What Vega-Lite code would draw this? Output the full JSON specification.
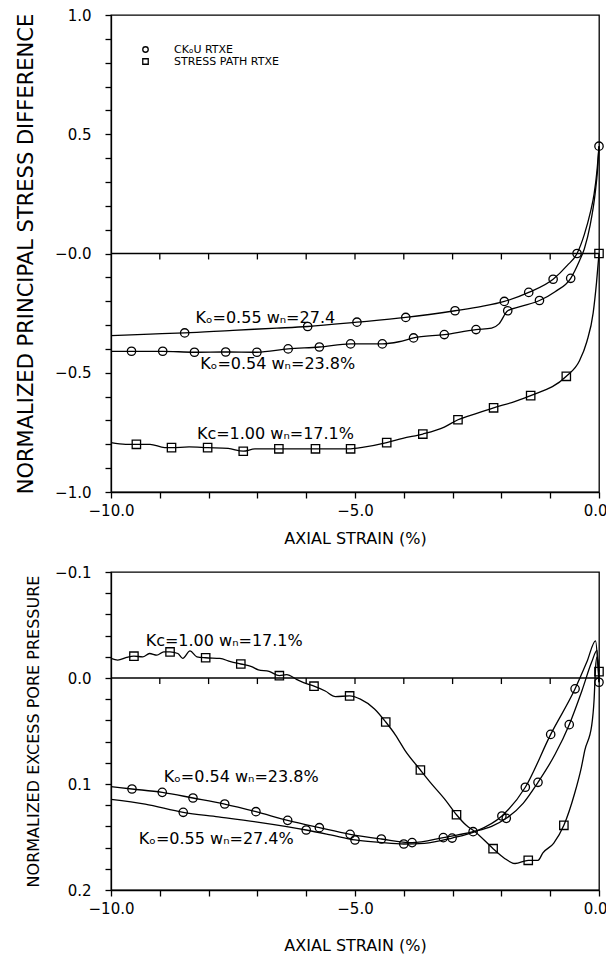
{
  "$schema": "https://vega.github.io/schema/vega-lite/v6.json",
  "padding": {"left": 14, "top": 7, "right": 0, "bottom": 6},
  "background": "white",
  "config": {
    "font": "DejaVu Sans",
    "view": {"stroke": "black", "strokeWidth": 1.3},
    "axis": {
      "domainColor": "black", "tickColor": "black", "labelColor": "black", "titleColor": "black",
      "grid": false, "labelFont": "DejaVu Sans", "titleFont": "DejaVu Sans",
      "labelFontSize": 15, "titleFontSize": 16, "titleFontWeight": "normal",
      "tickSize": 6, "domainWidth": 1.3, "tickWidth": 1.3, "labelFlush": false
    },
    "legend": {"labelFont": "DejaVu Sans", "labelColor": "black"}
  },
  "datasets": {
    "zero_ticks": [
      {"x": -9}, {"x": -8}, {"x": -7}, {"x": -6}, {"x": -5}, {"x": -4}, {"x": -3}, {"x": -2}, {"x": -1}
    ],
    "top_lines": [
      {"series": "Ko=0.55", "x": -10, "y": -0.344}, {"series": "Ko=0.55", "x": -9.2, "y": -0.338},
      {"series": "Ko=0.55", "x": -8.49, "y": -0.333}, {"series": "Ko=0.55", "x": -7.5, "y": -0.322},
      {"series": "Ko=0.55", "x": -6.6, "y": -0.313}, {"series": "Ko=0.55", "x": -5.97, "y": -0.306},
      {"series": "Ko=0.55", "x": -4.96, "y": -0.288}, {"series": "Ko=0.55", "x": -3.96, "y": -0.268},
      {"series": "Ko=0.55", "x": -2.95, "y": -0.24}, {"series": "Ko=0.55", "x": -2.4, "y": -0.222},
      {"series": "Ko=0.55", "x": -1.94, "y": -0.201}, {"series": "Ko=0.55", "x": -1.44, "y": -0.163},
      {"series": "Ko=0.55", "x": -0.94, "y": -0.108}, {"series": "Ko=0.55", "x": -0.65, "y": -0.05},
      {"series": "Ko=0.55", "x": -0.45, "y": 0.0}, {"series": "Ko=0.55", "x": -0.3, "y": 0.08},
      {"series": "Ko=0.55", "x": -0.18, "y": 0.17}, {"series": "Ko=0.55", "x": -0.1, "y": 0.25},
      {"series": "Ko=0.55", "x": -0.04, "y": 0.35}, {"series": "Ko=0.55", "x": 0, "y": 0.45},

      {"series": "Ko=0.54", "x": -10, "y": -0.41}, {"series": "Ko=0.54", "x": -9.58, "y": -0.41},
      {"series": "Ko=0.54", "x": -8.94, "y": -0.41}, {"series": "Ko=0.54", "x": -8.29, "y": -0.414},
      {"series": "Ko=0.54", "x": -7.65, "y": -0.413}, {"series": "Ko=0.54", "x": -7.01, "y": -0.414},
      {"series": "Ko=0.54", "x": -6.37, "y": -0.4}, {"series": "Ko=0.54", "x": -5.73, "y": -0.392},
      {"series": "Ko=0.54", "x": -5.09, "y": -0.379}, {"series": "Ko=0.54", "x": -4.44, "y": -0.379},
      {"series": "Ko=0.54", "x": -4.1, "y": -0.37}, {"series": "Ko=0.54", "x": -3.8, "y": -0.354},
      {"series": "Ko=0.54", "x": -3.17, "y": -0.34}, {"series": "Ko=0.54", "x": -2.52, "y": -0.319},
      {"series": "Ko=0.54", "x": -2.2, "y": -0.313}, {"series": "Ko=0.54", "x": -2.05, "y": -0.295},
      {"series": "Ko=0.54", "x": -1.87, "y": -0.24}, {"series": "Ko=0.54", "x": -1.6, "y": -0.222},
      {"series": "Ko=0.54", "x": -1.22, "y": -0.197}, {"series": "Ko=0.54", "x": -0.9, "y": -0.16},
      {"series": "Ko=0.54", "x": -0.58, "y": -0.104}, {"series": "Ko=0.54", "x": -0.4, "y": -0.03},
      {"series": "Ko=0.54", "x": -0.3, "y": 0.02}, {"series": "Ko=0.54", "x": -0.18, "y": 0.12},
      {"series": "Ko=0.54", "x": -0.08, "y": 0.25}, {"series": "Ko=0.54", "x": -0.03, "y": 0.35},
      {"series": "Ko=0.54", "x": 0, "y": 0.45},

      {"series": "Kc=1.00", "x": -10, "y": -0.793}, {"series": "Kc=1.00", "x": -9.7, "y": -0.8},
      {"series": "Kc=1.00", "x": -9.48, "y": -0.8}, {"series": "Kc=1.00", "x": -9.2, "y": -0.8},
      {"series": "Kc=1.00", "x": -8.9, "y": -0.814}, {"series": "Kc=1.00", "x": -8.76, "y": -0.814},
      {"series": "Kc=1.00", "x": -8.4, "y": -0.811}, {"series": "Kc=1.00", "x": -8.02, "y": -0.814},
      {"series": "Kc=1.00", "x": -7.6, "y": -0.817}, {"series": "Kc=1.00", "x": -7.29, "y": -0.829},
      {"series": "Kc=1.00", "x": -7.05, "y": -0.819}, {"series": "Kc=1.00", "x": -6.56, "y": -0.819},
      {"series": "Kc=1.00", "x": -6.05, "y": -0.819}, {"series": "Kc=1.00", "x": -5.81, "y": -0.819},
      {"series": "Kc=1.00", "x": -5.3, "y": -0.819}, {"series": "Kc=1.00", "x": -5.09, "y": -0.819},
      {"series": "Kc=1.00", "x": -4.82, "y": -0.812}, {"series": "Kc=1.00", "x": -4.35, "y": -0.793},
      {"series": "Kc=1.00", "x": -4.02, "y": -0.775}, {"series": "Kc=1.00", "x": -3.61, "y": -0.757},
      {"series": "Kc=1.00", "x": -3.17, "y": -0.728}, {"series": "Kc=1.00", "x": -2.89, "y": -0.697},
      {"series": "Kc=1.00", "x": -2.52, "y": -0.671}, {"series": "Kc=1.00", "x": -2.16, "y": -0.647},
      {"series": "Kc=1.00", "x": -1.73, "y": -0.621}, {"series": "Kc=1.00", "x": -1.4, "y": -0.596},
      {"series": "Kc=1.00", "x": -0.67, "y": -0.515}, {"series": "Kc=1.00", "x": -0.4, "y": -0.45},
      {"series": "Kc=1.00", "x": -0.25, "y": -0.37}, {"series": "Kc=1.00", "x": -0.12, "y": -0.25},
      {"series": "Kc=1.00", "x": -0.05, "y": -0.12}, {"series": "Kc=1.00", "x": 0, "y": 0}
    ],
    "top_markers": [
      {"test": "CKₒU RTXE", "x": -8.49, "y": -0.333}, {"test": "CKₒU RTXE", "x": -5.97, "y": -0.306},
      {"test": "CKₒU RTXE", "x": -4.96, "y": -0.288}, {"test": "CKₒU RTXE", "x": -3.96, "y": -0.268},
      {"test": "CKₒU RTXE", "x": -2.95, "y": -0.24}, {"test": "CKₒU RTXE", "x": -1.94, "y": -0.201},
      {"test": "CKₒU RTXE", "x": -1.44, "y": -0.163}, {"test": "CKₒU RTXE", "x": -0.94, "y": -0.108},
      {"test": "CKₒU RTXE", "x": -0.45, "y": 0.0}, {"test": "CKₒU RTXE", "x": 0, "y": 0.45},
      {"test": "CKₒU RTXE", "x": -9.58, "y": -0.41}, {"test": "CKₒU RTXE", "x": -8.94, "y": -0.41},
      {"test": "CKₒU RTXE", "x": -8.29, "y": -0.414}, {"test": "CKₒU RTXE", "x": -7.65, "y": -0.413},
      {"test": "CKₒU RTXE", "x": -7.01, "y": -0.414}, {"test": "CKₒU RTXE", "x": -6.37, "y": -0.4},
      {"test": "CKₒU RTXE", "x": -5.73, "y": -0.392}, {"test": "CKₒU RTXE", "x": -5.09, "y": -0.379},
      {"test": "CKₒU RTXE", "x": -4.44, "y": -0.379}, {"test": "CKₒU RTXE", "x": -3.8, "y": -0.354},
      {"test": "CKₒU RTXE", "x": -3.17, "y": -0.34}, {"test": "CKₒU RTXE", "x": -2.52, "y": -0.319},
      {"test": "CKₒU RTXE", "x": -1.87, "y": -0.24}, {"test": "CKₒU RTXE", "x": -1.22, "y": -0.197},
      {"test": "CKₒU RTXE", "x": -0.58, "y": -0.104},
      {"test": "STRESS PATH RTXE", "x": -9.48, "y": -0.8}, {"test": "STRESS PATH RTXE", "x": -8.76, "y": -0.814},
      {"test": "STRESS PATH RTXE", "x": -8.02, "y": -0.814}, {"test": "STRESS PATH RTXE", "x": -7.29, "y": -0.829},
      {"test": "STRESS PATH RTXE", "x": -6.56, "y": -0.819}, {"test": "STRESS PATH RTXE", "x": -5.81, "y": -0.819},
      {"test": "STRESS PATH RTXE", "x": -5.09, "y": -0.819}, {"test": "STRESS PATH RTXE", "x": -4.35, "y": -0.793},
      {"test": "STRESS PATH RTXE", "x": -3.61, "y": -0.757}, {"test": "STRESS PATH RTXE", "x": -2.89, "y": -0.697},
      {"test": "STRESS PATH RTXE", "x": -2.16, "y": -0.647}, {"test": "STRESS PATH RTXE", "x": -1.4, "y": -0.596},
      {"test": "STRESS PATH RTXE", "x": -0.67, "y": -0.515}, {"test": "STRESS PATH RTXE", "x": 0, "y": 0}
    ],
    "top_labels": [
      {"label": "Kₒ=0.55  wₙ=27.4", "x": -8.27, "y": -0.272},
      {"label": "Kₒ=0.54  wₙ=23.8%", "x": -8.17, "y": -0.465},
      {"label": "Kc=1.00  wₙ=17.1%", "x": -8.24, "y": -0.757}
    ],
    "bottom_lines": [
      {"series": "Kc=1.00", "x": -10, "y": -0.0185}, {"series": "Kc=1.00", "x": -9.86, "y": -0.0169},
      {"series": "Kc=1.00", "x": -9.68, "y": -0.0194}, {"series": "Kc=1.00", "x": -9.53, "y": -0.0206},
      {"series": "Kc=1.00", "x": -9.35, "y": -0.02}, {"series": "Kc=1.00", "x": -9.21, "y": -0.0231},
      {"series": "Kc=1.00", "x": -9.06, "y": -0.0215}, {"series": "Kc=1.00", "x": -8.92, "y": -0.0246},
      {"series": "Kc=1.00", "x": -8.79, "y": -0.0246}, {"series": "Kc=1.00", "x": -8.63, "y": -0.0231},
      {"series": "Kc=1.00", "x": -8.53, "y": -0.0185}, {"series": "Kc=1.00", "x": -8.38, "y": -0.0255},
      {"series": "Kc=1.00", "x": -8.24, "y": -0.02}, {"series": "Kc=1.00", "x": -8.06, "y": -0.0191},
      {"series": "Kc=1.00", "x": -7.77, "y": -0.0185}, {"series": "Kc=1.00", "x": -7.55, "y": -0.0154},
      {"series": "Kc=1.00", "x": -7.34, "y": -0.0132}, {"series": "Kc=1.00", "x": -7.12, "y": -0.0108},
      {"series": "Kc=1.00", "x": -6.98, "y": -0.0077}, {"series": "Kc=1.00", "x": -6.76, "y": -0.0062},
      {"series": "Kc=1.00", "x": -6.55, "y": -0.0022}, {"series": "Kc=1.00", "x": -6.4, "y": -0.0031},
      {"series": "Kc=1.00", "x": -6.19, "y": 0.0015}, {"series": "Kc=1.00", "x": -6.04, "y": 0.0046},
      {"series": "Kc=1.00", "x": -5.84, "y": 0.0077}, {"series": "Kc=1.00", "x": -5.61, "y": 0.0123},
      {"series": "Kc=1.00", "x": -5.4, "y": 0.0175}, {"series": "Kc=1.00", "x": -5.11, "y": 0.0169},
      {"series": "Kc=1.00", "x": -4.89, "y": 0.02}, {"series": "Kc=1.00", "x": -4.6, "y": 0.0292},
      {"series": "Kc=1.00", "x": -4.37, "y": 0.0415}, {"series": "Kc=1.00", "x": -4.17, "y": 0.0538},
      {"series": "Kc=1.00", "x": -3.98, "y": 0.068}, {"series": "Kc=1.00", "x": -3.66, "y": 0.0868},
      {"series": "Kc=1.00", "x": -3.44, "y": 0.0994}, {"series": "Kc=1.00", "x": -3.15, "y": 0.115},
      {"series": "Kc=1.00", "x": -2.92, "y": 0.129}, {"series": "Kc=1.00", "x": -2.72, "y": 0.139},
      {"series": "Kc=1.00", "x": -2.54, "y": 0.145}, {"series": "Kc=1.00", "x": -2.17, "y": 0.161},
      {"series": "Kc=1.00", "x": -1.94, "y": 0.17}, {"series": "Kc=1.00", "x": -1.72, "y": 0.175},
      {"series": "Kc=1.00", "x": -1.45, "y": 0.172}, {"series": "Kc=1.00", "x": -1.25, "y": 0.172},
      {"series": "Kc=1.00", "x": -1.15, "y": 0.165}, {"series": "Kc=1.00", "x": -0.93, "y": 0.156},
      {"series": "Kc=1.00", "x": -0.72, "y": 0.139}, {"series": "Kc=1.00", "x": -0.5, "y": 0.109},
      {"series": "Kc=1.00", "x": -0.36, "y": 0.084}, {"series": "Kc=1.00", "x": -0.29, "y": 0.068},
      {"series": "Kc=1.00", "x": -0.15, "y": 0.045}, {"series": "Kc=1.00", "x": -0.1, "y": 0.02},
      {"series": "Kc=1.00", "x": -0.07, "y": -0.01}, {"series": "Kc=1.00", "x": -0.04, "y": -0.02},
      {"series": "Kc=1.00", "x": 0, "y": -0.006},

      {"series": "Ko=0.54", "x": -10, "y": 0.1025}, {"series": "Ko=0.54", "x": -9.57, "y": 0.1047},
      {"series": "Ko=0.54", "x": -8.95, "y": 0.1079}, {"series": "Ko=0.54", "x": -8.32, "y": 0.1132},
      {"series": "Ko=0.54", "x": -7.67, "y": 0.1189}, {"series": "Ko=0.54", "x": -7.03, "y": 0.1261},
      {"series": "Ko=0.54", "x": -6.38, "y": 0.1343}, {"series": "Ko=0.54", "x": -5.73, "y": 0.1412},
      {"series": "Ko=0.54", "x": -5.1, "y": 0.1475}, {"series": "Ko=0.54", "x": -4.46, "y": 0.1519},
      {"series": "Ko=0.54", "x": -3.83, "y": 0.1553}, {"series": "Ko=0.54", "x": -3.19, "y": 0.1506},
      {"series": "Ko=0.54", "x": -2.58, "y": 0.145}, {"series": "Ko=0.54", "x": -2.2, "y": 0.14},
      {"series": "Ko=0.54", "x": -1.9, "y": 0.1324}, {"series": "Ko=0.54", "x": -1.55, "y": 0.118},
      {"series": "Ko=0.54", "x": -1.25, "y": 0.0984}, {"series": "Ko=0.54", "x": -0.9, "y": 0.072},
      {"series": "Ko=0.54", "x": -0.61, "y": 0.044}, {"series": "Ko=0.54", "x": -0.35, "y": 0.012},
      {"series": "Ko=0.54", "x": -0.15, "y": -0.015}, {"series": "Ko=0.54", "x": -0.04, "y": -0.026},
      {"series": "Ko=0.54", "x": 0, "y": 0.004},

      {"series": "Ko=0.55", "x": -10, "y": 0.1145}, {"series": "Ko=0.55", "x": -9.3, "y": 0.119},
      {"series": "Ko=0.55", "x": -8.52, "y": 0.1267}, {"series": "Ko=0.55", "x": -7.8, "y": 0.131},
      {"series": "Ko=0.55", "x": -7.0, "y": 0.136}, {"series": "Ko=0.55", "x": -6.0, "y": 0.1434},
      {"series": "Ko=0.55", "x": -5.5, "y": 0.148}, {"series": "Ko=0.55", "x": -5.0, "y": 0.1528},
      {"series": "Ko=0.55", "x": -4.5, "y": 0.155}, {"series": "Ko=0.55", "x": -4.0, "y": 0.1566},
      {"series": "Ko=0.55", "x": -3.58, "y": 0.156}, {"series": "Ko=0.55", "x": -3.01, "y": 0.151},
      {"series": "Ko=0.55", "x": -2.54, "y": 0.145}, {"series": "Ko=0.55", "x": -1.99, "y": 0.1302},
      {"series": "Ko=0.55", "x": -1.51, "y": 0.1031}, {"series": "Ko=0.55", "x": -0.99, "y": 0.0532},
      {"series": "Ko=0.55", "x": -0.49, "y": 0.0102}, {"series": "Ko=0.55", "x": -0.25, "y": -0.015},
      {"series": "Ko=0.55", "x": -0.07, "y": -0.035}, {"series": "Ko=0.55", "x": -0.02, "y": -0.01},
      {"series": "Ko=0.55", "x": 0, "y": 0.004}
    ],
    "bottom_markers": [
      {"test": "STRESS PATH RTXE", "x": -9.53, "y": -0.0206}, {"test": "STRESS PATH RTXE", "x": -8.79, "y": -0.0246},
      {"test": "STRESS PATH RTXE", "x": -8.06, "y": -0.0191}, {"test": "STRESS PATH RTXE", "x": -7.34, "y": -0.0132},
      {"test": "STRESS PATH RTXE", "x": -6.55, "y": -0.0022}, {"test": "STRESS PATH RTXE", "x": -5.84, "y": 0.0077},
      {"test": "STRESS PATH RTXE", "x": -5.11, "y": 0.0169}, {"test": "STRESS PATH RTXE", "x": -4.37, "y": 0.0415},
      {"test": "STRESS PATH RTXE", "x": -3.66, "y": 0.0868}, {"test": "STRESS PATH RTXE", "x": -2.92, "y": 0.129},
      {"test": "STRESS PATH RTXE", "x": -2.17, "y": 0.161}, {"test": "STRESS PATH RTXE", "x": -1.45, "y": 0.172},
      {"test": "STRESS PATH RTXE", "x": -0.72, "y": 0.139}, {"test": "STRESS PATH RTXE", "x": 0, "y": -0.006},
      {"test": "CKₒU RTXE", "x": -9.57, "y": 0.1047}, {"test": "CKₒU RTXE", "x": -8.95, "y": 0.1079},
      {"test": "CKₒU RTXE", "x": -8.32, "y": 0.1132}, {"test": "CKₒU RTXE", "x": -7.67, "y": 0.1189},
      {"test": "CKₒU RTXE", "x": -7.03, "y": 0.1261}, {"test": "CKₒU RTXE", "x": -6.38, "y": 0.1343},
      {"test": "CKₒU RTXE", "x": -5.73, "y": 0.1412}, {"test": "CKₒU RTXE", "x": -5.1, "y": 0.1475},
      {"test": "CKₒU RTXE", "x": -4.46, "y": 0.1519}, {"test": "CKₒU RTXE", "x": -3.83, "y": 0.1553},
      {"test": "CKₒU RTXE", "x": -3.19, "y": 0.1506}, {"test": "CKₒU RTXE", "x": -2.58, "y": 0.145},
      {"test": "CKₒU RTXE", "x": -1.9, "y": 0.1324}, {"test": "CKₒU RTXE", "x": -1.25, "y": 0.0984},
      {"test": "CKₒU RTXE", "x": -0.61, "y": 0.044}, {"test": "CKₒU RTXE", "x": 0, "y": 0.004},
      {"test": "CKₒU RTXE", "x": -8.52, "y": 0.1267}, {"test": "CKₒU RTXE", "x": -6.0, "y": 0.1434},
      {"test": "CKₒU RTXE", "x": -5.0, "y": 0.1528}, {"test": "CKₒU RTXE", "x": -4.0, "y": 0.1566},
      {"test": "CKₒU RTXE", "x": -3.01, "y": 0.151}, {"test": "CKₒU RTXE", "x": -1.99, "y": 0.1302},
      {"test": "CKₒU RTXE", "x": -1.51, "y": 0.1031}, {"test": "CKₒU RTXE", "x": -0.99, "y": 0.0532},
      {"test": "CKₒU RTXE", "x": -0.49, "y": 0.0102}
    ],
    "bottom_labels": [
      {"label": "Kc=1.00  wₙ=17.1%", "x": -9.29, "y": -0.035},
      {"label": "Kₒ=0.54  wₙ=23.8%", "x": -8.92, "y": 0.093},
      {"label": "Kₒ=0.55  wₙ=27.4%", "x": -9.43, "y": 0.152}
    ]
  },
  "spacing": 80,
  "bounds": "flush",
  "resolve": {"scale": {"shape": "independent"}, "legend": {"shape": "independent"}},
  "vconcat": [
    {
      "width": 488,
      "height": 477,
      "layer": [
        {
          "data": {"name": "top_lines"},
          "mark": {"type": "line", "color": "black", "strokeWidth": 1.3, "interpolate": "monotone"},
          "encoding": {
            "x": {
              "field": "x", "type": "quantitative",
              "scale": {"domain": [-10, 0], "nice": false, "zero": false},
              "axis": {
                "title": "AXIAL STRAIN (%)",
                "values": [-10, -9, -8, -7, -6, -5, -4, -3, -2, -1, 0],
                "tickCount": 60,
                "labelExpr": "abs(datum.value % 5) < 0.001 ? format(datum.value, '.1f') : ''",
                "labelOverlap": false, "labelFlush": false,
                "labelPadding": 5, "titlePadding": 12,
                "labelAlign": {"condition": {"test": "datum.value === 0", "value": "right"}, "value": "center"},
                "labelOffset": {"condition": {"test": "datum.value === 0", "value": 8}, "value": 0}
              }
            },
            "y": {
              "field": "y", "type": "quantitative",
              "scale": {"domain": [-1, 1], "nice": false, "zero": false},
              "axis": {
                "title": "NORMALIZED PRINCIPAL STRESS DIFFERENCE",
                "titleFontSize": 21,
                "values": [-1, -0.9, -0.8, -0.7, -0.6, -0.5, -0.4, -0.3, -0.2, -0.1, 0, 0.1, 0.2, 0.3, 0.4, 0.5, 0.6, 0.7, 0.8, 0.9, 1],
                "tickCount": 60,
                "labelExpr": "datum.value == 0 ? '−0.0' : (abs(datum.value * 2 - round(datum.value * 2)) < 0.001 ? format(datum.value, '.1f') : '')",
                "labelOverlap": false,
                "labelPadding": 14, "titlePadding": 18
              }
            },
            "detail": {"field": "series"}
          }
        },
        {
          "data": {"name": "top_markers"},
          "mark": {"type": "point", "filled": false, "color": "black", "strokeWidth": 1.3, "size": 70, "opacity": 1},
          "encoding": {
            "x": {"field": "x", "type": "quantitative"},
            "y": {"field": "y", "type": "quantitative"},
            "shape": {
              "field": "test", "type": "nominal",
              "scale": {"domain": ["CKₒU RTXE", "STRESS PATH RTXE"], "range": ["circle", "square"]},
              "legend": {
                "title": null, "orient": "top-left", "offset": 29, "padding": 0,
                "labelFontSize": 11, "symbolSize": 30, "symbolStrokeWidth": 1.3,
                "symbolStrokeColor": "black", "labelOffset": 23, "rowPadding": 0
              }
            }
          }
        },
        {
          "data": {"name": "top_labels"},
          "mark": {"type": "text", "align": "left", "baseline": "middle", "fontSize": 16, "color": "black"},
          "encoding": {
            "x": {"field": "x", "type": "quantitative"},
            "y": {"field": "y", "type": "quantitative"},
            "text": {"field": "label"}
          }
        },
        {
          "data": {"values": [{}]},
          "mark": {"type": "rule", "color": "black", "strokeWidth": 1.3},
          "encoding": {"y": {"datum": 0, "type": "quantitative"}}
        },
        {
          "data": {"name": "zero_ticks"},
          "mark": {"type": "rule", "color": "black", "strokeWidth": 1.3},
          "encoding": {
            "x": {"field": "x", "type": "quantitative"},
            "y": {"datum": 0, "type": "quantitative"},
            "y2": {"datum": -0.025}
          }
        }
      ]
    },
    {
      "width": 488,
      "height": 318,
      "layer": [
        {
          "data": {"name": "bottom_lines"},
          "mark": {"type": "line", "color": "black", "strokeWidth": 1.3, "interpolate": "monotone"},
          "encoding": {
            "x": {
              "field": "x", "type": "quantitative",
              "scale": {"domain": [-10, 0], "nice": false, "zero": false},
              "axis": {
                "title": "AXIAL STRAIN (%)",
                "values": [-10, -9, -8, -7, -6, -5, -4, -3, -2, -1, 0],
                "tickCount": 60,
                "labelExpr": "abs(datum.value % 5) < 0.001 ? format(datum.value, '.1f') : ''",
                "labelOverlap": false, "labelFlush": false,
                "labelPadding": 5, "titlePadding": 21,
                "labelAlign": {"condition": {"test": "datum.value === 0", "value": "right"}, "value": "center"},
                "labelOffset": {"condition": {"test": "datum.value === 0", "value": 8}, "value": 0}
              }
            },
            "y": {
              "field": "y", "type": "quantitative",
              "scale": {"domain": [-0.1, 0.2], "nice": false, "zero": false, "reverse": true},
              "axis": {
                "title": "NORMALIZED EXCESS PORE PRESSURE",
                "values": [-0.1, -0.08, -0.06, -0.04, -0.02, 0, 0.02, 0.04, 0.06, 0.08, 0.1, 0.12, 0.14, 0.16, 0.18, 0.2],
                "tickCount": 60,
                "labelExpr": "abs(datum.value * 10 - round(datum.value * 10)) < 0.001 ? format(datum.value, '.1f') : ''",
                "labelOverlap": false,
                "labelPadding": 14, "titlePadding": 13
              }
            },
            "detail": {"field": "series"}
          }
        },
        {
          "data": {"name": "bottom_markers"},
          "mark": {"type": "point", "filled": false, "color": "black", "strokeWidth": 1.3, "size": 70, "opacity": 1},
          "encoding": {
            "x": {"field": "x", "type": "quantitative"},
            "y": {"field": "y", "type": "quantitative"},
            "shape": {
              "field": "test", "type": "nominal",
              "scale": {"domain": ["CKₒU RTXE", "STRESS PATH RTXE"], "range": ["circle", "square"]},
              "legend": null
            }
          }
        },
        {
          "data": {"name": "bottom_labels"},
          "mark": {"type": "text", "align": "left", "baseline": "middle", "fontSize": 16, "color": "black"},
          "encoding": {
            "x": {"field": "x", "type": "quantitative"},
            "y": {"field": "y", "type": "quantitative"},
            "text": {"field": "label"}
          }
        },
        {
          "data": {"values": [{}]},
          "mark": {"type": "rule", "color": "black", "strokeWidth": 1.3},
          "encoding": {"y": {"datum": 0, "type": "quantitative"}}
        },
        {
          "data": {"name": "zero_ticks"},
          "mark": {"type": "rule", "color": "black", "strokeWidth": 1.3},
          "encoding": {
            "x": {"field": "x", "type": "quantitative"},
            "y": {"datum": 0, "type": "quantitative"},
            "y2": {"datum": 0.0057}
          }
        }
      ]
    }
  ]
}
